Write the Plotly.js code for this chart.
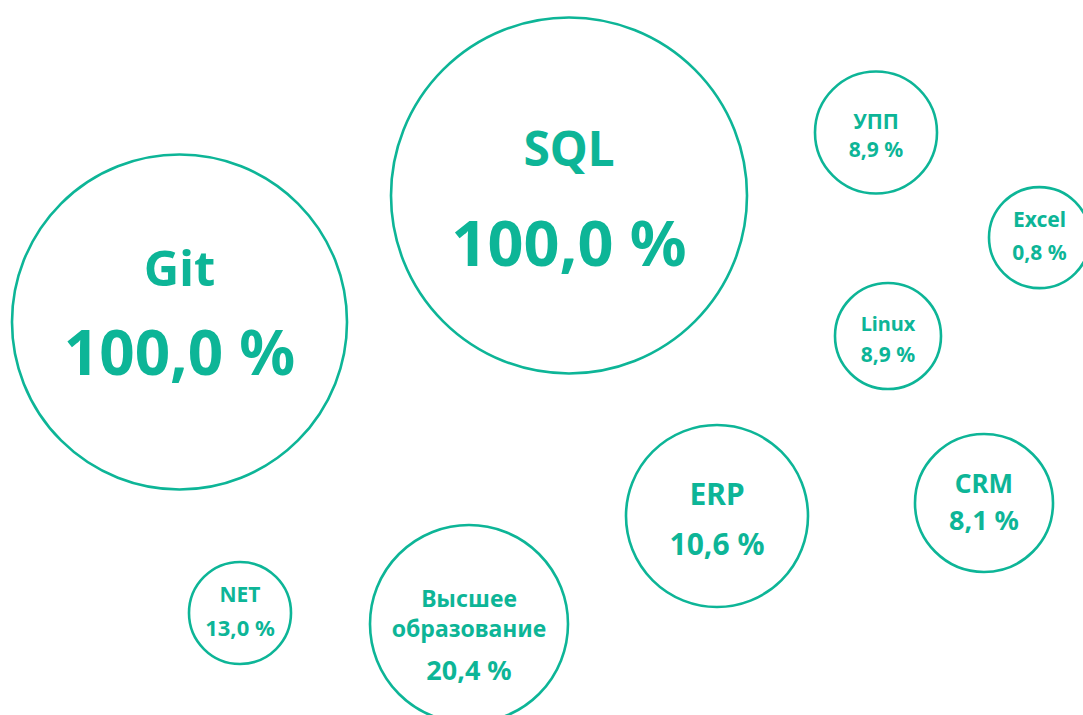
<!DOCTYPE html>
<html>
<head>
<meta charset="utf-8">
<script src="https://cdn.plot.ly/plotly-3.0.1.min.js"></script>
<style>
html,body{margin:0;padding:0;background:#fff;}
#chart{width:1083px;height:715px;}
</style>
</head>
<body>
<div id="chart"></div>
<script>
// ---- data ----
const categories = ["Git", "SQL", "УПП", "Excel", "Linux", "ERP", "CRM", "NET", "Высшее<br>образование"];
const values = [100.0, 100.0, 8.9, 0.8, 8.9, 10.6, 8.1, 13.0, 20.4];

// ---- layout (positions in pixel space, sizes, styles) ----
const centerX = [179.5, 569, 876, 1039.5, 888, 717, 984, 240, 469];
const centerY = [322, 195.5, 132.5, 237.6, 336, 516, 503, 613, 624];
const diameters = [335, 356, 122, 101, 106, 182, 138, 102, 198];
const labelOffset = [-54, -46.5, -11.5, -18.6, -12, -22, -19, -18.5, -10.5];
const valueOffset = [31, 47.5, 17, 14.4, 18, 28, 17, 15, 46];
const labelSize = [49, 48, 21, 21, 20, 30, 26, 21, 23];
const valueSize = [62, 63, 21, 21, 21, 30, 27, 22, 27];
const baselineShift = 0.11; // em, aligns text centre with cap centre

const teal = "#0db597";
const fontFamily = "'Noto Sans', 'DejaVu Sans', sans-serif";

const fmt = v => v.toFixed(1).replace(".", ",") + " %";

const circles = {
  type: "scatter",
  mode: "markers",
  x: centerX,
  y: centerY,
  hoverinfo: "skip",
  marker: {
    size: diameters,
    sizemode: "diameter",
    color: "#ffffff",
    opacity: 1,
    line: {color: teal, width: 2.6}
  },
  showlegend: false
};

const labels = {
  type: "scatter",
  mode: "text",
  x: centerX,
  y: centerY.map((c, i) => c + labelOffset[i] + baselineShift * labelSize[i]),
  text: categories,
  textposition: "middle center",
  textfont: {family: fontFamily, size: labelSize, color: teal, weight: 700},
  hoverinfo: "skip",
  showlegend: false,
  cliponaxis: false
};

const valueText = {
  type: "scatter",
  mode: "text",
  x: centerX,
  y: centerY.map((c, i) => c + valueOffset[i] + baselineShift * valueSize[i]),
  text: values.map(fmt),
  textposition: "middle center",
  textfont: {family: fontFamily, size: valueSize, color: teal, weight: 700},
  hoverinfo: "skip",
  showlegend: false,
  cliponaxis: false
};

const layout = {
  width: 1083,
  height: 715,
  margin: {l: 0, r: 0, t: 0, b: 0},
  paper_bgcolor: "#ffffff",
  plot_bgcolor: "#ffffff",
  xaxis: {range: [0, 1083], visible: false, fixedrange: true},
  yaxis: {range: [715, 0], visible: false, fixedrange: true},
  showlegend: false
};

Plotly.newPlot("chart", [circles, labels, valueText], layout, {displayModeBar: false, staticPlot: true});
</script>
</body>
</html>
